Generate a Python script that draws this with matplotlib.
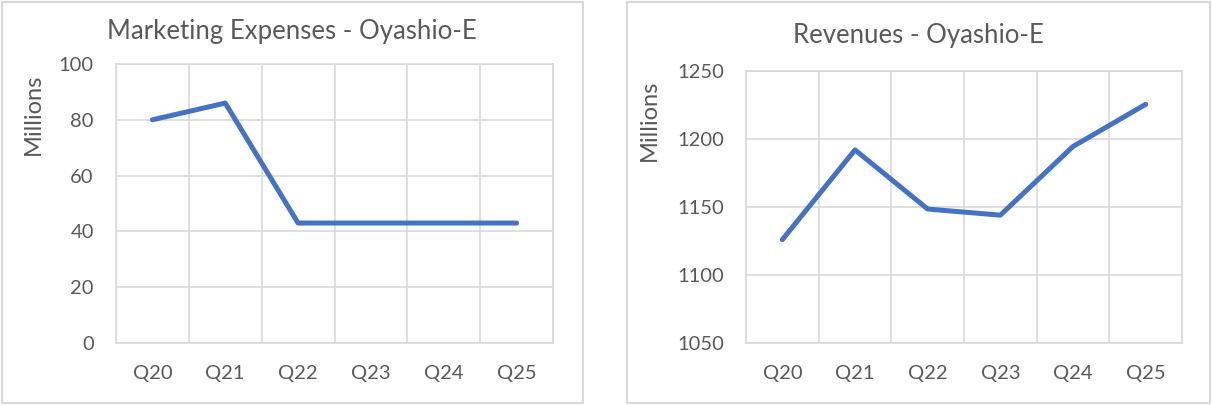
import matplotlib
matplotlib.use("Agg")
import matplotlib.pyplot as plt
from matplotlib.patches import Rectangle

quarters = ["Q20", "Q21", "Q22", "Q23", "Q24", "Q25"]
marketing = [80, 86, 43, 43, 43, 43]
revenues = [1126, 1192, 1148.5, 1144, 1194.5, 1225.5]

W, H = 1212, 405
blue = "#4472C4"
grey_text = "#595959"
grid = "#D9D9D9"

plt.rcParams["font.family"] = ["Lato", "DejaVu Sans"]

fig = plt.figure(figsize=(W / 100, H / 100), dpi=100)


def px_axes(left, top, right, bottom):
    return fig.add_axes([left / W, 1 - bottom / H, (right - left) / W, (bottom - top) / H])


def panel(left, right):
    fig.patches.append(
        Rectangle((left / W, 2 / H), (right - left) / W, (H - 4) / H,
                  transform=fig.transFigure, fill=False, edgecolor=grid, lw=1.5)
    )


def draw(ax, values, ylim, step, title, title_x, title_y, ylabel_x):
    x = range(len(quarters))
    ax.plot(x, values, color=blue, lw=3.6, solid_capstyle="round", solid_joinstyle="round")
    ax.set_xlim(-0.5, len(quarters) - 0.5)
    ax.set_ylim(*ylim)
    ax.set_yticks(range(ylim[0], ylim[1] + 1, step))
    ax.set_xticks(list(x))
    ax.set_xticklabels(quarters)
    ax.set_xticks([i + 0.5 for i in range(-1, len(quarters))], minor=True)
    ax.grid(True, which="minor", axis="x", color=grid, lw=1.2)
    ax.grid(True, which="major", axis="y", color=grid, lw=1.2)
    ax.set_axisbelow(True)
    for s in ax.spines.values():
        s.set_color(grid)
        s.set_linewidth(1.2)
    ax.tick_params(which="both", length=0, colors=grey_text, labelsize=14.5)
    ax.tick_params(axis="y", pad=16)
    ax.tick_params(axis="x", pad=16)
    fig.text(title_x / W, 1 - title_y / H, title, ha="center", va="center",
             fontsize=18.5, color=grey_text)
    ax.set_ylabel("Millions", fontsize=17, color=grey_text)
    pos = ax.get_position()
    ax.yaxis.set_label_coords((ylabel_x - pos.x0 * W) / (pos.width * W), 0.82)


panel(2, 583)
panel(627, 1210)

ax1 = px_axes(116, 64, 553, 343)
draw(ax1, marketing, (0, 100), 20, "Marketing Expenses - Oyashio-E", 292, 31, 44)

ax2 = px_axes(746, 71, 1182, 343)
draw(ax2, revenues, (1050, 1250), 50, "Revenues - Oyashio-E", 918, 35, 660)

fig.savefig("out.png", dpi=100)
